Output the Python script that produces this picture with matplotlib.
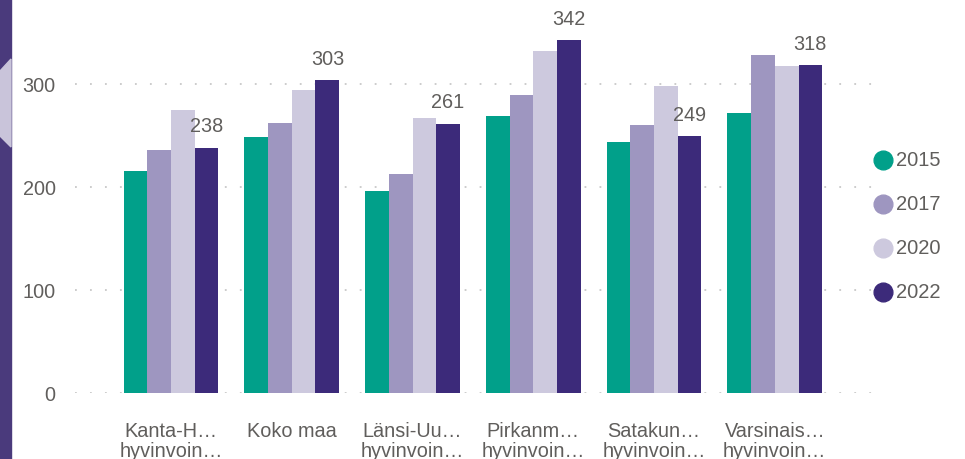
import matplotlib
matplotlib.use("Agg")
import matplotlib.pyplot as plt
from matplotlib.lines import Line2D
from matplotlib.patches import Polygon
import numpy as np

plt.rcParams['font.family'] = ['Liberation Sans', 'DejaVu Sans']

# data
categories = ["Kanta-H…\nhyvinvoin…", "Koko maa", "Länsi-Uu…\nhyvinvoin…",
              "Pirkanm…\nhyvinvoin…", "Satakun…\nhyvinvoin…", "Varsinais…\nhyvinvoin…"]
years = ["2015", "2017", "2020", "2022"]
v2015 = [215, 248, 196, 269, 243, 271]
v2017 = [236, 262, 212, 289, 260, 328]
v2020 = [274, 294, 267, 332, 298, 317]
v2022 = [238, 303, 261, 342, 249, 318]
colors = ["#01A08A", "#9E96C0", "#CDC9DE", "#3C2A7A"]

W, H = 965, 460
fig = plt.figure(figsize=(W / 100, H / 100), dpi=100)
ax = fig.add_axes([75 / W, (H - 394) / H, 800 / W, 394 / H])

txt_col = "#605E5C"
x = np.arange(len(categories))
bw = 0.1966
series = [v2015, v2017, v2020, v2022]
for i, (vals, c) in enumerate(zip(series, colors)):
    ax.bar(x + (i - 1.5) * bw, vals, width=bw, color=c, zorder=3)

# labels on the last series
for xi, v in zip(x + 1.5 * bw, v2022):
    ax.annotate(str(v), (xi, v), xytext=(0, 9), textcoords="offset points",
                ha="center", va="bottom", fontsize=14.3, color=txt_col)

ax.set_xlim(-0.795, 5.83)
ax.set_ylim(0, 382)
ax.set_yticks([0, 100, 200, 300])
ax.set_xticks(x)
ax.set_xticklabels(categories, fontsize=14.3, color=txt_col, linespacing=1.1)
ax.tick_params(axis="y", labelsize=14.3, labelcolor=txt_col, length=0, pad=14)
ax.tick_params(axis="x", length=0, pad=20)
for s in ax.spines.values():
    s.set_visible(False)
ax.grid(axis="y", color="#C8C8C8", linestyle=(0, (1, 7.3)), linewidth=1.3, zorder=0)
ax.set_axisbelow(True)

# legend
leg_y = [160.5, 205, 248.5, 293]
for yr, c, yy in zip(years, colors, leg_y):
    fig.add_artist(Line2D([883 / W], [1 - yy / H], marker="o", ms=13.5, color=c,
                          linestyle="none", transform=fig.transFigure))
    fig.text(896 / W, 1 - yy / H, yr, fontsize=14.5, color=txt_col, va="center", ha="left")

# left side strip
fig.add_artist(Polygon([[0, 0], [11 / W, 0], [11 / W, 1], [0, 1]], closed=True,
                       transform=fig.transFigure, color="#4A3A7C"))
fig.add_artist(Polygon([[0, 1 - 72 / H], [11 / W, 1 - 60 / H], [11 / W, 1 - 148 / H], [0, 1 - 137 / H]],
                       closed=True, transform=fig.transFigure, color="#C9C4DA"))

fig.savefig("out.png", dpi=100)
